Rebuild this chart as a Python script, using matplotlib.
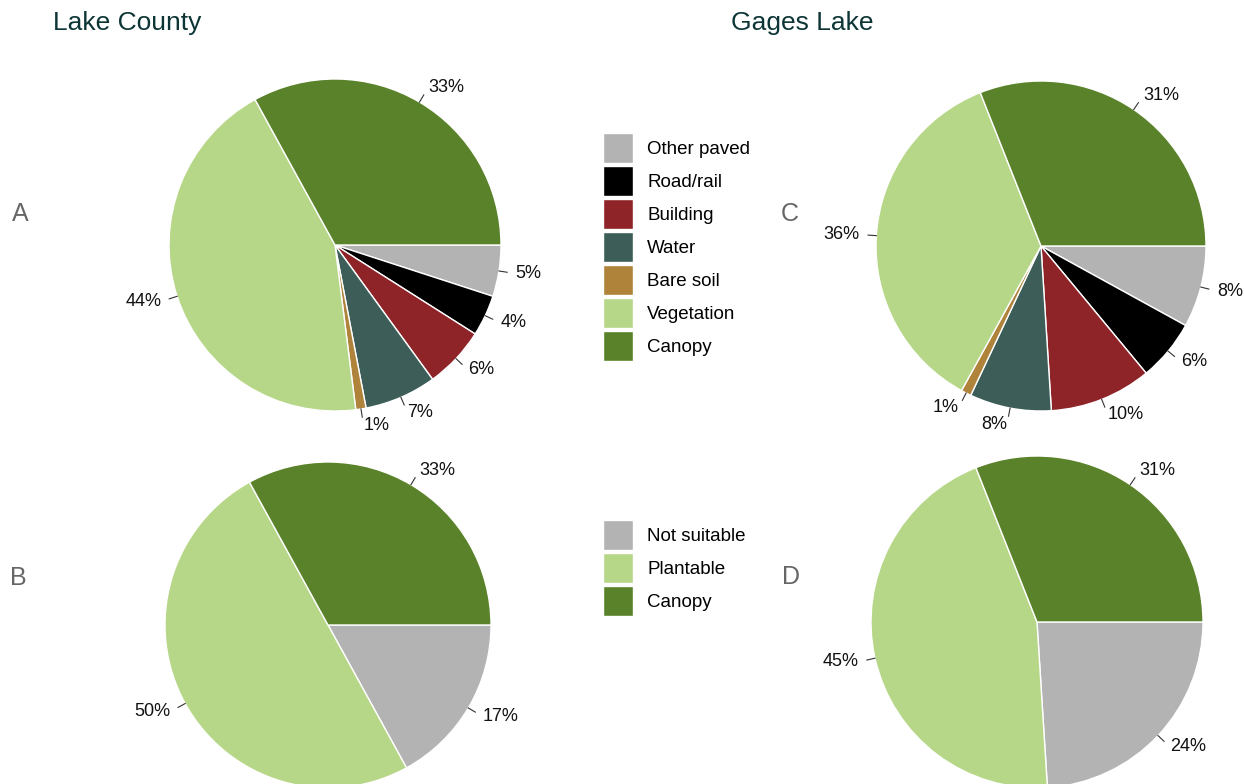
import matplotlib.pyplot as plt
from matplotlib.patches import Wedge
from matplotlib.legend_handler import HandlerPatch
import numpy as np

# land cover categories (pies A and C)
cover_labels = ["Other paved", "Road/rail", "Building", "Water", "Bare soil", "Vegetation", "Canopy"]
cover_colors = ["#b3b3b3", "#000000", "#8e2328", "#3d5e58", "#b0833a", "#b7d788", "#5a822a"]
lake_county_cover = [5, 4, 6, 7, 1, 44, 33]
gages_lake_cover = [8, 6, 10, 8, 1, 36, 31]

# plantable categories (pies B and D)
plant_labels = ["Not suitable", "Plantable", "Canopy"]
plant_colors = ["#b3b3b3", "#b7d788", "#5a822a"]
lake_county_plant = [17, 50, 33]
gages_lake_plant = [24, 45, 31]

W, H = 1244, 784
FONT = "Liberation Sans"


def add_pie(fig, cx, cy, r, values, colors):
    # axes box placed in pixels so that radius 1 == r pixels
    ax = fig.add_axes([(cx - r) / W, (H - cy - r) / H, 2 * r / W, 2 * r / H])
    wedges, _ = ax.pie(values, colors=colors, startangle=0, counterclock=False, radius=1,
                       wedgeprops=dict(edgecolor="white", linewidth=1))
    ax.set_xlim(-1, 1)
    ax.set_ylim(-1, 1)
    ax.axis("off")
    # base-R style labels: tick from 1 to 1.05, text at 1.1
    total = float(sum(values))
    cum = 0.0
    for v in values:
        mid = -(cum + v / 2) / total * 2 * np.pi
        cum += v
        x, y = np.cos(mid), np.sin(mid)
        ax.plot([x, 1.05 * x], [y, 1.05 * y], color="#333333", lw=0.8, clip_on=False)
        ax.text(1.1 * x, 1.1 * y, f"{v}%", ha="right" if x < 0 else "left", va="center",
                fontsize=13, family=FONT, color="#111111", clip_on=False)
    return ax, wedges


fig = plt.figure(figsize=(W / 100, H / 100), dpi=100)

axA, wedA = add_pie(fig, 335, 245, 166, lake_county_cover, cover_colors)
axB, wedB = add_pie(fig, 328, 625, 163, lake_county_plant, plant_colors)
axC, wedC = add_pie(fig, 1041, 246, 165, gages_lake_cover, cover_colors)
axD, wedD = add_pie(fig, 1037, 622, 166, gages_lake_plant, plant_colors)

fig.text(53 / W, 1 - 23 / H, "Lake County", fontsize=19, family=FONT, color="#0e3535", va="center")
fig.text(731 / W, 1 - 23 / H, "Gages Lake", fontsize=19, family=FONT, color="#0e3535", va="center")

for letter, x, y in [("A", 20, 214), ("B", 18, 578), ("C", 790, 214), ("D", 791, 577)]:
    fig.text(x / W, 1 - y / H, letter, fontsize=18, family=FONT, color="#666666", ha="center", va="center")

# handleheight 2.085 -> 30 px squares after legend descent, 33 px row pitch
leg_kw = dict(frameon=False, borderpad=0, borderaxespad=0, handlelength=1.6, handleheight=2.085,
              labelspacing=0.16, handletextpad=0.75, prop=dict(family=FONT, size=13.5),
              handler_map={Wedge: HandlerPatch(xpad=0.0, ypad=0.0)})
fig.legend(wedA, cover_labels, loc="upper left", bbox_to_anchor=(603 / W, 1 - 133 / H), **leg_kw)
fig.legend(wedB, plant_labels, loc="upper left", bbox_to_anchor=(603 / W, 1 - 520 / H), **leg_kw)

fig.savefig("out.png", dpi=100)
